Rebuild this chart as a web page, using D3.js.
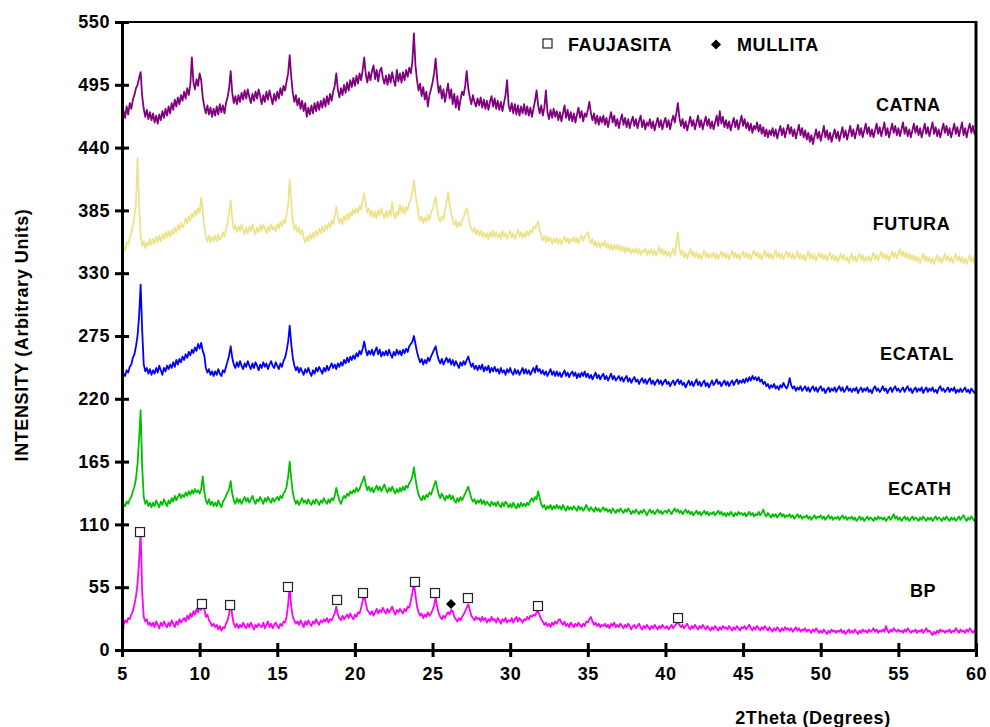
<!DOCTYPE html>
<html>
<head>
<meta charset="utf-8">
<script src="https://cdn.jsdelivr.net/npm/d3@7"></script>
<style>
  body { margin: 0; background: #fff; }
  svg text { font-family: 'Liberation Sans', Arial, sans-serif; font-weight: bold; }
</style>
</head>
<body>
<svg width="990" height="727"></svg>
<script>
// 2theta grid, 0.1 degree steps from 5 to 60 (one row = one degree)
const twoTheta = d3.range(551).map(i => +(5 + i * 0.1).toFixed(1));

const bp = [
  0, 22, 26, 24, 28, 27, 31, 34, 40, 47,
  58, 78, 103, 50, 29, 25, 27, 22, 24, 21,
  24, 20, 25, 22, 19, 24, 21, 25, 22, 20,
  24, 21, 26, 23, 20, 25, 22, 27, 24, 26,
  28, 25, 30, 27, 32, 29, 34, 31, 36, 33,
  37, 35, 44, 36, 29, 31, 26, 24, 21, 23,
  20, 22, 18, 21, 17, 20, 19, 23, 26, 32,
  43, 30, 23, 20, 23, 19, 22, 20, 24, 21,
  19, 23, 20, 24, 21, 18, 22, 20, 23, 21,
  20, 24, 19, 22, 25, 20, 23, 19, 22, 24,
  21, 19, 23, 21, 25, 24, 29, 40, 56, 38,
  29, 26, 23, 25, 22, 26, 23, 20, 25, 22,
  26, 23, 21, 25, 23, 27, 24, 22, 26, 24,
  27, 25, 28, 24, 27, 26, 29, 32, 38, 31,
  28, 26, 30, 27, 29, 31, 28, 32, 29, 27,
  31, 29, 33, 32, 37, 43, 50, 41, 35, 33,
  31, 34, 30, 33, 36, 32, 35, 33, 37, 34,
  32, 36, 33, 35, 38, 34, 31, 35, 33, 36,
  34, 32, 36, 34, 38, 37, 43, 50, 59, 48,
  38, 33, 30, 32, 28, 31, 29, 33, 30, 32,
  35, 39, 46, 38, 32, 29, 27, 30, 28, 31,
  33, 31, 35, 34, 29, 27, 25, 28, 26, 29,
  31, 34, 37, 40, 35, 30, 28, 26, 29, 27,
  28, 25, 29, 26, 28, 24, 27, 25, 29, 26,
  27, 24, 28, 26, 23, 27, 25, 28, 24, 26,
  25, 28, 24, 27, 29, 25, 28, 26, 24, 27,
  26, 29, 27, 30, 29, 31, 30, 33, 34, 30,
  27, 25, 22, 24, 21, 23, 20, 24, 22, 25,
  23, 26, 27, 24, 22, 25, 21, 23, 20, 24,
  22, 20, 23, 21, 24, 22, 20, 23, 21, 25,
  24, 27, 29, 25, 22, 24, 21, 23, 20, 22,
  21, 23, 20, 22, 19, 23, 21, 24, 20, 22,
  20, 23, 21, 19, 22, 20, 23, 21, 18, 21,
  22, 19, 21, 23, 20, 18, 21, 19, 22, 20,
  18, 21, 19, 22, 20, 18, 21, 19, 22, 20,
  19, 21, 18, 20, 22, 19, 21, 23, 24, 22,
  20, 22, 19, 21, 23, 20, 18, 21, 19, 22,
  20, 18, 21, 19, 22, 20, 18, 21, 19, 17,
  20, 18, 21, 19, 17, 20, 18, 21, 19, 20,
  18, 21, 19, 17, 20, 18, 21, 19, 17, 20,
  19, 21, 18, 20, 22, 19, 17, 20, 18, 21,
  19, 17, 20, 18, 21, 19, 17, 20, 18, 16,
  19, 17, 20, 18, 16, 19, 17, 20, 18, 19,
  17, 19, 16, 18, 20, 17, 19, 16, 18, 17,
  19, 16, 18, 17, 15, 18, 16, 19, 17, 15,
  17, 15, 18, 16, 14, 17, 15, 18, 16, 17,
  15, 17, 16, 18, 15, 17, 14, 16, 18, 15,
  17, 15, 18, 16, 14, 17, 15, 18, 16, 17,
  15, 18, 16, 17, 19, 16, 18, 15, 17, 16,
  18, 16, 21, 17, 15, 18, 16, 19, 17, 16,
  18, 16, 17, 15, 18, 16, 19, 17, 15, 17,
  16, 18, 15, 17, 16, 18, 15, 17, 19, 16,
  17, 15, 13, 16, 14, 17, 15, 18, 16, 17,
  15, 17, 16, 18, 15, 17, 16, 19, 17, 15,
  18, 16, 17, 15, 18, 16, 19, 17, 15, 17,
  16
];

const ecath = [
  124, 128, 126, 130, 128, 132, 134, 139, 143, 150,
  163, 185, 210, 160, 134, 128, 131, 126, 129, 125,
  129, 126, 131, 128, 125, 130, 127, 132, 129, 126,
  131, 128, 133, 130, 135, 131, 134, 137, 133, 136,
  134, 138, 135, 139, 136, 140, 137, 141, 138, 140,
  137, 141, 152, 139, 131, 128, 132, 127, 130, 126,
  129, 126, 131, 128, 125, 130, 132, 135, 138, 141,
  148, 137, 131, 128, 133, 129, 132, 128, 131, 134,
  130, 133, 129, 132, 135, 131, 128, 132, 130, 134,
  131, 128, 133, 130, 134, 131, 129, 133, 130, 132,
  134, 131, 135, 133, 137, 139, 143, 152, 165, 150,
  138, 132, 128, 131, 127, 130, 133, 129, 131, 128,
  132, 129, 127, 131, 128, 132, 130, 127, 131, 129,
  133, 130, 128, 132, 129, 133, 131, 135, 142, 136,
  131, 128, 132, 135, 133, 137, 135, 139, 137, 140,
  138, 142, 139, 141, 145, 148, 152, 145, 140, 143,
  139, 142, 138, 141, 144, 140, 143, 139, 142, 145,
  141, 138, 142, 139, 143, 140, 137, 141, 138, 142,
  139, 143, 140, 144, 142, 146, 148, 152, 160, 150,
  142, 136, 133, 131, 135, 132, 136, 134, 138, 136,
  140, 144, 148, 142, 136, 133, 137, 134, 131, 135,
  133, 136, 132, 135, 131, 129, 133, 130, 134, 131,
  134, 137, 140, 143, 138, 133, 130, 132, 128, 131,
  129, 132, 128, 131, 127, 130, 128, 126, 130, 127,
  129, 126, 130, 127, 125, 129, 126, 130, 128, 125,
  128, 125, 129, 126, 124, 128, 125, 129, 126, 128,
  126, 129, 127, 131, 133, 130, 134, 132, 139, 133,
  128, 125, 127, 123, 126, 124, 127, 123, 126, 124,
  127, 124, 126, 123, 127, 124, 122, 126, 123, 125,
  123, 126, 124, 122, 126, 123, 125, 122, 124, 127,
  124, 122, 125, 123, 121, 125, 122, 124, 121, 123,
  125, 122, 124, 121, 123, 120, 124, 122, 120, 123,
  121, 124, 122, 120, 123, 121, 124, 122, 119, 122,
  120, 123, 121, 119, 122, 120, 123, 121, 118, 121,
  123, 120, 122, 119, 121, 123, 120, 122, 119, 121,
  122, 120, 123, 121, 119, 122, 124, 121, 123, 120,
  122, 119, 121, 123, 120, 122, 119, 121, 118, 120,
  122, 119, 121, 118, 120, 122, 119, 121, 118, 120,
  119, 121, 118, 120, 122, 119, 121, 118, 120, 117,
  120, 118, 121, 119, 117, 120, 118, 121, 119, 120,
  118, 120, 117, 119, 121, 118, 120, 117, 119, 118,
  121, 118, 120, 123, 119, 117, 120, 118, 116, 119,
  117, 119, 116, 118, 120, 117, 119, 116, 118, 117,
  119, 116, 118, 115, 117, 119, 116, 118, 115, 117,
  116, 118, 115, 117, 114, 116, 118, 115, 117, 116,
  118, 115, 117, 114, 116, 118, 115, 117, 114, 116,
  115, 117, 114, 116, 118, 115, 117, 114, 116, 115,
  117, 114, 116, 113, 115, 117, 114, 116, 113, 115,
  117, 114, 116, 115, 113, 116, 114, 117, 115, 116,
  114, 116, 113, 115, 117, 114, 116, 119, 115, 117,
  114, 116, 113, 115, 117, 114, 116, 113, 115, 117,
  114, 116, 115, 113, 116, 114, 117, 115, 113, 116,
  114, 116, 113, 115, 117, 114, 116, 115, 113, 116,
  114, 117, 115, 113, 116, 114, 116, 113, 115, 117,
  114, 116, 118, 115, 113, 116, 114, 117, 115, 113,
  116
];

const ecatal = [
  238, 242, 240, 245, 243, 248, 250, 256, 259, 266,
  275, 292, 320, 280, 250, 244, 247, 242, 246, 241,
  245, 242, 247, 243, 249, 245, 241, 247, 244, 249,
  246, 250, 247, 252, 248, 254, 250, 255, 252, 257,
  254, 259, 256, 261, 258, 263, 260, 265, 262, 268,
  264, 269, 262, 258, 247, 243, 246, 241, 244, 240,
  244, 241, 246, 242, 240, 245, 243, 248, 253, 258,
  266, 256, 250, 247, 252, 248, 253, 249, 246, 251,
  248, 253, 249, 246, 251, 247, 252, 249, 245, 250,
  247, 252, 248, 251, 246, 250, 253, 249, 247, 252,
  249, 246, 251, 248, 253, 256, 262, 270, 284, 268,
  256, 249, 245, 248, 243, 247, 244, 241, 246, 243,
  247, 243, 240, 245, 242, 247, 244, 248, 245, 242,
  247, 244, 249, 245, 248, 251, 247, 250, 246, 251,
  248, 252, 249, 254, 251, 256, 252, 257, 254, 258,
  255, 260, 257, 262, 259, 264, 270, 263, 258, 262,
  259, 263, 258, 262, 265, 259, 263, 257, 261, 258,
  262, 258, 263, 259, 256, 261, 258, 263, 259, 262,
  258, 263, 260, 264, 261, 266, 268, 270, 275, 268,
  261, 256, 252, 255, 250, 254, 251, 256, 253, 257,
  260, 263, 266, 259, 254, 251, 255, 250, 253, 256,
  252, 255, 250, 254, 249, 253, 250, 247, 252, 249,
  253, 250, 254, 257, 252, 248, 251, 246, 249, 245,
  249, 246, 250, 244, 248, 245, 249, 243, 247, 244,
  248, 244, 246, 242, 247, 243, 245, 241, 246, 243,
  247, 243, 241, 246, 242, 245, 241, 244, 247, 242,
  246, 242, 245, 241, 244, 247, 243, 249, 244, 246,
  242, 245, 241, 244, 240, 243, 246, 241, 244, 240,
  244, 240, 243, 239, 242, 245, 240, 243, 239, 242,
  244, 240, 243, 238, 242, 239, 243, 240, 244, 239,
  242, 238, 241, 237, 240, 243, 238, 241, 237, 240,
  242, 237, 240, 236, 239, 242, 237, 240, 236, 238,
  240, 236, 239, 235, 238, 240, 235, 238, 234, 237,
  239, 235, 237, 233, 236, 238, 234, 237, 233, 236,
  238, 233, 236, 232, 235, 237, 233, 236, 232, 235,
  237, 233, 235, 231, 234, 236, 232, 235, 237, 233,
  236, 232, 234, 230, 233, 236, 232, 235, 231, 234,
  237, 232, 235, 231, 234, 236, 231, 234, 230, 233,
  236, 232, 234, 237, 233, 235, 231, 234, 236, 232,
  235, 231, 234, 236, 232, 235, 237, 233, 236, 234,
  237, 234, 238, 235, 239, 236, 240, 237, 239, 236,
  239, 235, 237, 233, 235, 231, 233, 229, 232, 230,
  233, 229, 231, 228, 232, 230, 234, 231, 229, 232,
  238, 232, 229, 231, 227, 230, 228, 231, 227, 229,
  231, 227, 230, 226, 229, 231, 227, 230, 226, 229,
  231, 227, 229, 225, 228, 230, 226, 229, 227, 230,
  226, 229, 231, 227, 230, 226, 228, 231, 227, 229,
  226, 229, 227, 230, 225, 228, 230, 226, 229, 227,
  230, 226, 228, 225, 229, 231, 227, 229, 226, 228,
  231, 227, 229, 225, 228, 230, 226, 229, 231, 227,
  229, 226, 228, 230, 226, 229, 231, 227, 229, 225,
  228, 230, 226, 229, 227, 230, 225, 228, 230, 226,
  229, 227, 230, 226, 228, 225, 229, 231, 227, 229,
  226, 228, 230, 226, 229, 227, 230, 225, 228, 226,
  229, 226, 228, 230, 226, 228, 225, 229, 227, 225,
  227
];

const futura = [
  347, 354, 350, 357, 355, 361, 365, 372, 380, 390,
  431, 392, 362, 354, 358, 352, 357, 354, 360, 355,
  360, 356, 362, 357, 363, 358, 364, 360, 366, 361,
  367, 362, 368, 364, 370, 366, 372, 368, 374, 370,
  373, 378, 374, 380, 376, 382, 379, 385, 381, 387,
  383, 396, 385, 370, 362, 358, 363, 357, 362, 358,
  363, 358, 364, 359, 362, 366, 362, 368, 374, 382,
  394, 378, 368, 372, 366, 371, 367, 373, 368, 364,
  370, 365, 371, 367, 373, 368, 364, 370, 366, 372,
  367, 373, 369, 365, 371, 367, 373, 368, 371, 367,
  373, 369, 375, 371, 377, 374, 381, 390, 412, 392,
  376, 368, 372, 366, 370, 364, 368, 361, 357, 362,
  358, 364, 360, 366, 361, 367, 363, 369, 365, 371,
  366, 372, 368, 374, 370, 376, 373, 380, 388, 380,
  374, 378, 373, 380, 376, 382, 377, 384, 380, 386,
  382, 387, 383, 389, 386, 393, 400, 390, 383, 387,
  380, 385, 379, 384, 378, 385, 381, 387, 382, 378,
  384, 379, 385, 380, 392, 383, 378, 384, 381, 390,
  383, 388, 382, 388, 385, 391, 395, 401, 411, 399,
  390, 381, 376, 380, 374, 379, 375, 381, 377, 383,
  386, 391, 397, 386, 378, 375, 380, 377, 385, 392,
  401, 390, 382, 377, 372, 376, 370, 375, 371, 376,
  379, 383, 387, 381, 373, 368, 366, 370, 364, 368,
  363, 367, 362, 366, 361, 365, 360, 366, 362, 367,
  362, 366, 361, 365, 360, 367, 362, 365, 360, 364,
  367, 361, 365, 360, 364, 368, 362, 366, 361, 365,
  362, 367, 363, 368, 365, 371, 369, 373, 375, 368,
  362, 359, 363, 357, 362, 358, 361, 356, 360, 357,
  361, 356, 360, 355, 359, 362, 357, 361, 356, 360,
  358, 362, 357, 361, 356, 360, 363, 358, 362, 364,
  366, 360, 356, 360, 354, 358, 353, 357, 352, 357,
  354, 358, 352, 356, 351, 355, 350, 355, 351, 355,
  350, 354, 349, 353, 348, 353, 349, 352, 347, 351,
  348, 352, 347, 351, 346, 350, 348, 352, 346, 350,
  347, 351, 346, 350, 345, 349, 353, 347, 351, 346,
  350, 345, 349, 344, 348, 352, 346, 356, 366, 352,
  346, 350, 344, 348, 343, 347, 351, 345, 349, 344,
  348, 343, 347, 342, 346, 350, 344, 348, 343, 347,
  344, 348, 343, 347, 342, 346, 349, 344, 348, 343,
  347, 342, 346, 350, 344, 348, 343, 347, 342, 346,
  349, 344, 348, 343, 347, 342, 346, 350, 345, 348,
  343, 347, 342, 346, 350, 344, 348, 343, 347, 342,
  346, 350, 344, 348, 343, 347, 342, 346, 349, 344,
  348, 343, 347, 342, 345, 349, 343, 347, 342, 346,
  341, 345, 349, 343, 347, 342, 346, 341, 345, 348,
  343, 347, 342, 346, 341, 345, 348, 342, 346, 341,
  345, 340, 344, 347, 342, 346, 341, 344, 339, 343,
  347, 341, 345, 340, 344, 347, 342, 346, 340, 344,
  341, 345, 340, 344, 348, 342, 346, 341, 345, 349,
  343, 347, 342, 346, 341, 345, 349, 344, 348, 343,
  347, 351, 345, 349, 344, 348, 343, 347, 342, 346,
  341, 345, 340, 344, 339, 343, 347, 341, 345, 340,
  344, 339, 343, 338, 342, 346, 340, 344, 339, 343,
  347, 341, 345, 340, 344, 339, 343, 347, 341, 345,
  340, 344, 339, 343, 338, 342, 346, 340, 344, 339,
  342
];

const catna = [
  463, 472, 466, 476, 469, 479, 474, 482, 486, 492,
  495, 501, 506, 485, 474, 467, 473, 465, 471, 464,
  470, 462, 468, 461, 469, 464, 472, 466, 474, 468,
  476, 470, 479, 473, 482, 476, 484, 478, 486, 481,
  489, 483, 492, 486, 495, 519, 497, 491, 500, 494,
  505, 499, 484, 476, 470, 477, 469, 475, 467, 474,
  468, 476, 469, 478, 471, 477, 470, 479, 484, 492,
  507, 488, 479, 485, 478, 486, 480, 488, 482, 490,
  483, 491, 484, 479, 487, 481, 489, 483, 491, 485,
  478, 486, 480, 489, 482, 490, 484, 478, 487, 481,
  489, 483, 492, 486, 494, 490, 498, 505, 521, 502,
  488, 480, 486, 477, 483, 474, 481, 472, 479, 467,
  475, 469, 477, 470, 479, 472, 480, 473, 481, 475,
  483, 476, 485, 478, 487, 481, 489, 494, 505, 491,
  484, 492, 486, 495, 488, 497, 490, 499, 493, 501,
  494, 503, 496, 505, 499, 508, 519, 504, 497, 506,
  499, 507, 512, 500, 508, 498, 507, 510, 501, 496,
  503, 495, 504, 497, 506, 499, 494, 508, 498, 505,
  497, 506, 499, 508, 502, 510, 505, 515, 540, 512,
  499, 490, 496, 485, 493, 482, 489, 476, 486, 491,
  497, 505, 518, 500, 488, 494, 483, 491, 480, 488,
  496, 483, 491, 478, 487, 475, 485, 473, 482, 489,
  486, 494, 507, 492, 484, 478, 486, 480, 476, 483,
  477, 484, 475, 482, 474, 481, 473, 480, 485, 476,
  483, 474, 481, 473, 480, 472, 479, 486, 499, 477,
  472, 479, 470, 478, 469, 477, 468, 476, 470, 478,
  469, 476, 468, 475, 467, 474, 481, 490, 477, 470,
  477, 468, 475, 490, 471, 465, 473, 466, 474, 467,
  472, 464, 471, 463, 470, 477, 466, 473, 464, 471,
  463, 470, 462, 469, 475, 466, 472, 463, 470, 467,
  473, 480, 470, 464, 470, 461, 468, 460, 467, 462,
  468, 460, 466, 458, 465, 471, 462, 468, 459, 465,
  457, 464, 469, 460, 466, 458, 465, 457, 463, 467,
  459, 465, 457, 463, 468, 458, 464, 456, 462, 459,
  465, 457, 463, 455, 461, 466, 458, 464, 456, 462,
  466, 458, 464, 456, 463, 468, 462, 470, 479, 466,
  459, 465, 457, 463, 455, 461, 467, 459, 464, 456,
  462, 468, 458, 464, 456, 462, 467, 459, 465, 457,
  463, 456, 462, 468, 459, 472, 461, 467, 458, 464,
  457, 463, 455, 461, 466, 458, 464, 456, 462, 468,
  459, 465, 457, 462, 455, 461, 453, 459, 456, 462,
  454, 460, 452, 458, 450, 456, 449, 455, 451, 457,
  450, 456, 448, 454, 459, 451, 457, 449, 455, 460,
  452, 458, 450, 456, 448, 454, 460, 451, 457, 449,
  455, 447, 453, 445, 451, 443, 450, 456, 448, 454,
  446, 452, 459, 449, 455, 447, 453, 445, 451, 456,
  448, 454, 446, 452, 458, 449, 455, 447, 453, 459,
  450, 456, 448, 454, 460, 451, 457, 449, 455, 461,
  452, 458, 450, 456, 449, 455, 461, 452, 458, 450,
  456, 462, 451, 457, 449, 455, 461, 453, 459, 451,
  457, 450, 456, 462, 452, 458, 450, 456, 449, 455,
  461, 453, 459, 451, 457, 449, 455, 461, 452, 458,
  450, 456, 462, 452, 458, 450, 456, 449, 455, 461,
  453, 459, 451, 457, 449, 455, 461, 452, 458, 450,
  456, 462, 451, 457, 449, 456, 461, 453, 459, 452,
  455
];

const seriesNames = ['BP', 'ECATH', 'ECATAL', 'FUTURA', 'CATNA'];
const seriesColours = ['#ff00ff', '#00c000', '#0000ff', '#ece38c', '#800080'];
const seriesValues = [bp, ecath, ecatal, futura, catna];
// where each name sits (2theta, intensity at baseline)
const labelX = [55.75, 54.33, 53.82, 53.35, 53.56];
const labelY = [46.4, 135.7, 254, 367.8, 472];

const faujasitaX = [6.16, 10.15, 11.96, 15.69, 18.85, 20.52, 23.87, 25.16, 27.28, 31.79, 40.81];
const faujasitaY = [103.3, 40.3, 39.4, 55.2, 43.8, 49.9, 59.6, 49.9, 45.5, 38.5, 28];
const mullitaX = [26.19];
const mullitaY = [40.3];

const xTicks = d3.range(5, 61, 5);
const yTicks = d3.range(0, 551, 55);

var svg = d3.select('svg');
const plotLeft = 122, plotRight = 976, plotTop = 22, plotBottom = 650;

const x = d3.scaleLinear().domain([5, 60]).range([plotLeft, plotRight]);
const y = d3.scaleLinear().domain([0, 550]).range([plotBottom, plotTop]);

const line = d3.line()
  .x(d => x(d[0]))
  .y(d => y(d[1]));

svg.append('g')
  .attr('class', 'series')
  .selectAll('path')
  .data(seriesValues)
  .enter().append('path')
  .attr('fill', 'none')
  .attr('stroke', (d, i) => seriesColours[i])
  .attr('stroke-width', 1.8)
  .attr('stroke-linejoin', 'round')
  .attr('d', vals => line(vals.map((v, i) => [twoTheta[i], v])));

// frame
svg.append('line').attr('x1', plotLeft).attr('x2', plotRight).attr('y1', plotTop).attr('y2', plotTop)
  .attr('stroke', '#000').attr('stroke-width', 2);
svg.append('line').attr('x1', plotRight).attr('x2', plotRight).attr('y1', plotTop - 1).attr('y2', plotBottom)
  .attr('stroke', '#000').attr('stroke-width', 3);

const yAxis = svg.append('g')
  .attr('transform', `translate(${plotLeft},0)`)
  .call(d3.axisLeft(y).tickValues(yTicks).tickSize(7).tickPadding(5).tickSizeOuter(0));
yAxis.select('.domain').attr('stroke-width', 3);
yAxis.selectAll('.tick line').attr('x1', 7).attr('stroke-width', 3);
yAxis.selectAll('.tick text').attr('font-size', 18).attr('fill', '#000')
  .style('letter-spacing', '0.6px');

const xAxis = svg.append('g')
  .attr('transform', `translate(0,${plotBottom})`)
  .call(d3.axisBottom(x).tickValues(xTicks).tickSize(7).tickPadding(10).tickSizeOuter(0));
xAxis.select('.domain').attr('stroke-width', 3);
xAxis.selectAll('.tick line').attr('y1', -7).attr('stroke-width', 3);
xAxis.selectAll('.tick text').attr('font-size', 18).attr('fill', '#000')
  .style('letter-spacing', '0.6px');
svg.selectAll('.domain').attr('stroke', '#000');

// phase markers on BP
svg.append('g')
  .selectAll('rect')
  .data(faujasitaX.map((v, i) => [v, faujasitaY[i]]))
  .enter().append('rect')
  .attr('x', d => x(d[0]) - 4.5)
  .attr('y', d => y(d[1]) - 4.5)
  .attr('width', 9)
  .attr('height', 9)
  .attr('fill', '#fff')
  .attr('stroke', '#222')
  .attr('stroke-width', 1.2);

const diamond = d3.symbol(d3.symbolSquare, 50);

svg.append('g')
  .selectAll('path')
  .data(mullitaX.map((v, i) => [v, mullitaY[i]]))
  .enter().append('path')
  .attr('transform', d => `translate(${x(d[0])},${y(d[1])}) rotate(45)`)
  .attr('d', diamond)
  .attr('fill', '#000');

// series names
svg.append('g')
  .selectAll('text')
  .data(seriesNames)
  .enter().append('text')
  .attr('x', (d, i) => x(labelX[i]))
  .attr('y', (d, i) => y(labelY[i]))
  .attr('font-size', 18)
  .style('letter-spacing', '0.6px')
  .text(d => d);

// legend
const legend = svg.append('g');
legend.append('rect')
  .attr('x', 543).attr('y', 39).attr('width', 9).attr('height', 9)
  .attr('fill', '#fff').attr('stroke', '#222').attr('stroke-width', 1.2);
legend.append('text').attr('x', 568).attr('y', 51).attr('font-size', 18)
  .style('letter-spacing', '0.6px').text('FAUJASITA');
legend.append('path')
  .attr('transform', 'translate(716,44.5) rotate(45)')
  .attr('d', diamond)
  .attr('fill', '#000');
legend.append('text').attr('x', 737).attr('y', 51).attr('font-size', 18)
  .style('letter-spacing', '0.6px').text('MULLITA');

// axis titles
svg.append('text')
  .attr('x', 813).attr('y', 724)
  .attr('text-anchor', 'middle')
  .attr('font-size', 18)
  .style('letter-spacing', '0.6px')
  .text('2Theta (Degrees)');

svg.append('text')
  .attr('transform', 'translate(28,335) rotate(-90)')
  .attr('text-anchor', 'middle')
  .attr('font-size', 18)
  .style('letter-spacing', '0.6px')
  .text('INTENSITY (Arbitrary Units)');
</script>
</body>
</html>
